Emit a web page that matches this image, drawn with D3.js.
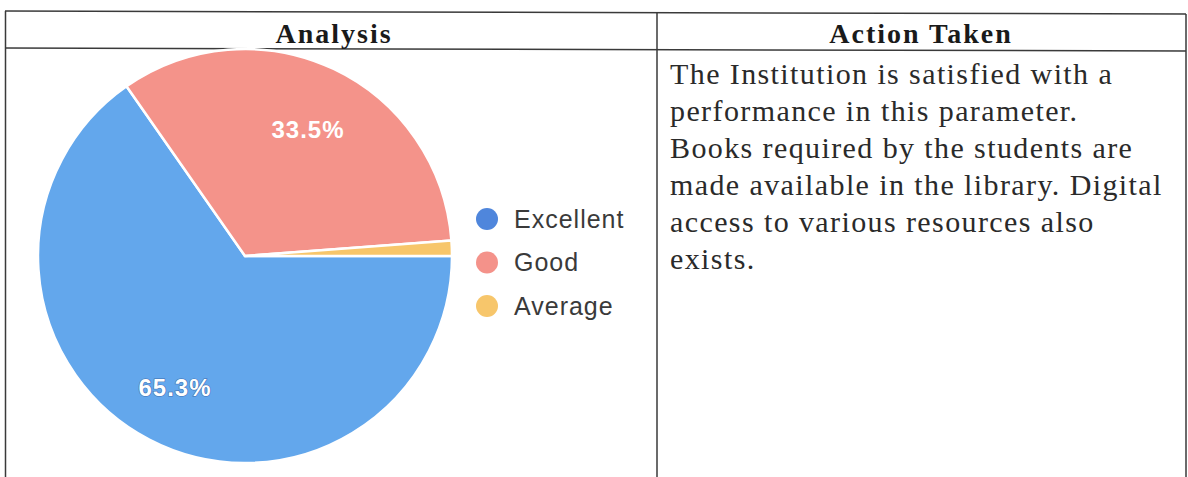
<!DOCTYPE html>
<html>
<head>
<meta charset="utf-8">
<script src="https://cdn.jsdelivr.net/npm/d3@7"></script>
<style>
  body { margin: 0; background: #fff; }
  svg { display: block; }
</style>
</head>
<body>
<div id="container"></div>
<script>
/* Data */
var categories = ['Excellent', 'Good', 'Average'];
var shares = [65.3, 33.5, 1.2];
var colours = ['#63a7ec', '#f4938a', '#f7c66b'];
var legendColours = ['#4f86dc', '#f4928a', '#f7c66b'];
var headers = ['Analysis', 'Action Taken'];
var actionLines = [
  'The Institution is satisfied with a',
  'performance in this parameter.',
  'Books required by the students are',
  'made available in the library. Digital',
  'access to various resources also',
  'exists.'
];

var w = 1188, h = 477;

var svg = d3.select('#container').append('svg')
  .attr('width', w)
  .attr('height', h);

/* Table frame */
var frame = svg.append('g')
  .attr('stroke', '#3a3a3a')
  .attr('stroke-width', 1.5);
frame.append('line').attr('x1', 5).attr('y1', 11).attr('x2', 1186).attr('y2', 14);
frame.append('line').attr('x1', 5).attr('y1', 48).attr('x2', 1186).attr('y2', 51);
frame.append('line').attr('x1', 5.5).attr('y1', 11).attr('x2', 5.5).attr('y2', h);
frame.append('line').attr('x1', 657).attr('y1', 12).attr('x2', 657).attr('y2', h);
frame.append('line').attr('x1', 1186).attr('y1', 14).attr('x2', 1186).attr('y2', h);

/* Headers */
var headerX = [334, 921];
svg.selectAll('.header')
  .data(headers)
  .enter().append('text')
  .attr('class', 'header')
  .attr('x', (d, i) => headerX[i])
  .attr('y', 43)
  .attr('text-anchor', 'middle')
  .style('font-family', '"Liberation Serif", "Times New Roman", serif')
  .style('font-weight', 'bold')
  .style('font-size', '28px')
  .style('letter-spacing', '2px')
  .style('fill', '#1a1a1a')
  .text(d => d);

/* Action text */
svg.append('g')
  .selectAll('text')
  .data(actionLines)
  .enter().append('text')
  .attr('x', 670)
  .attr('y', (d, i) => 84 + i * 37)
  .style('font-family', '"Liberation Serif", "Times New Roman", serif')
  .style('font-size', '30px')
  .style('letter-spacing', '1.4px')
  .style('fill', '#2a2a2a')
  .text(d => d);

/* Pie */
var cx = 245, cy = 256, r = 207;
var pieData = categories.map((c, i) => ({ name: c, value: shares[i], colour: colours[i] }));

var pie = d3.pie()
  .sort(null)
  .value(d => d.value)
  .startAngle(Math.PI / 2)
  .endAngle(Math.PI / 2 + 2 * Math.PI);

var arc = d3.arc().innerRadius(0).outerRadius(r);

var pieG = svg.append('g')
  .attr('transform', 'translate(' + cx + ',' + cy + ')');

var arcs = pie(pieData);

pieG.selectAll('path')
  .data(arcs)
  .enter().append('path')
  .attr('d', arc)
  .attr('fill', d => d.data.colour)
  .attr('stroke', '#fff')
  .attr('stroke-width', 2.5)
  .attr('stroke-linejoin', 'round');

// label spots as placed in the original chart
var labelSpots = { Excellent: [-70, 132], Good: [63, -126] };
pieG.selectAll('.pct')
  .data(arcs.filter(d => labelSpots[d.data.name]))
  .enter().append('text')
  .attr('class', 'pct')
  .attr('transform', d => 'translate(' + labelSpots[d.data.name] + ')')
  .attr('text-anchor', 'middle')
  .attr('dy', '0.35em')
  .style('font-family', '"Liberation Sans", Arial, sans-serif')
  .style('font-weight', 'bold')
  .style('font-size', '24px')
  .style('letter-spacing', '1px')
  .style('fill', '#fff')
  .style('paint-order', 'stroke')
  .style('stroke', d => d.data.name === 'Excellent' ? '#3f6fb0' : 'none')
  .style('stroke-width', 1.2)
  .text(d => d.data.value.toFixed(1) + '%');

/* Legend */
var legend = svg.append('g')
  .attr('transform', 'translate(487,219)');

var item = legend.selectAll('.item')
  .data(categories)
  .enter().append('g')
  .attr('class', 'item')
  .attr('transform', (d, i) => 'translate(0,' + i * 43.5 + ')');

item.append('circle')
  .attr('r', 11)
  .attr('fill', (d, i) => legendColours[i]);

item.append('text')
  .attr('x', 27)
  .attr('dy', '0.35em')
  .style('font-family', '"Liberation Sans", Arial, sans-serif')
  .style('font-size', '25px')
  .style('letter-spacing', '1px')
  .style('fill', '#3a3a3a')
  .text(d => d);
</script>
</body>
</html>
